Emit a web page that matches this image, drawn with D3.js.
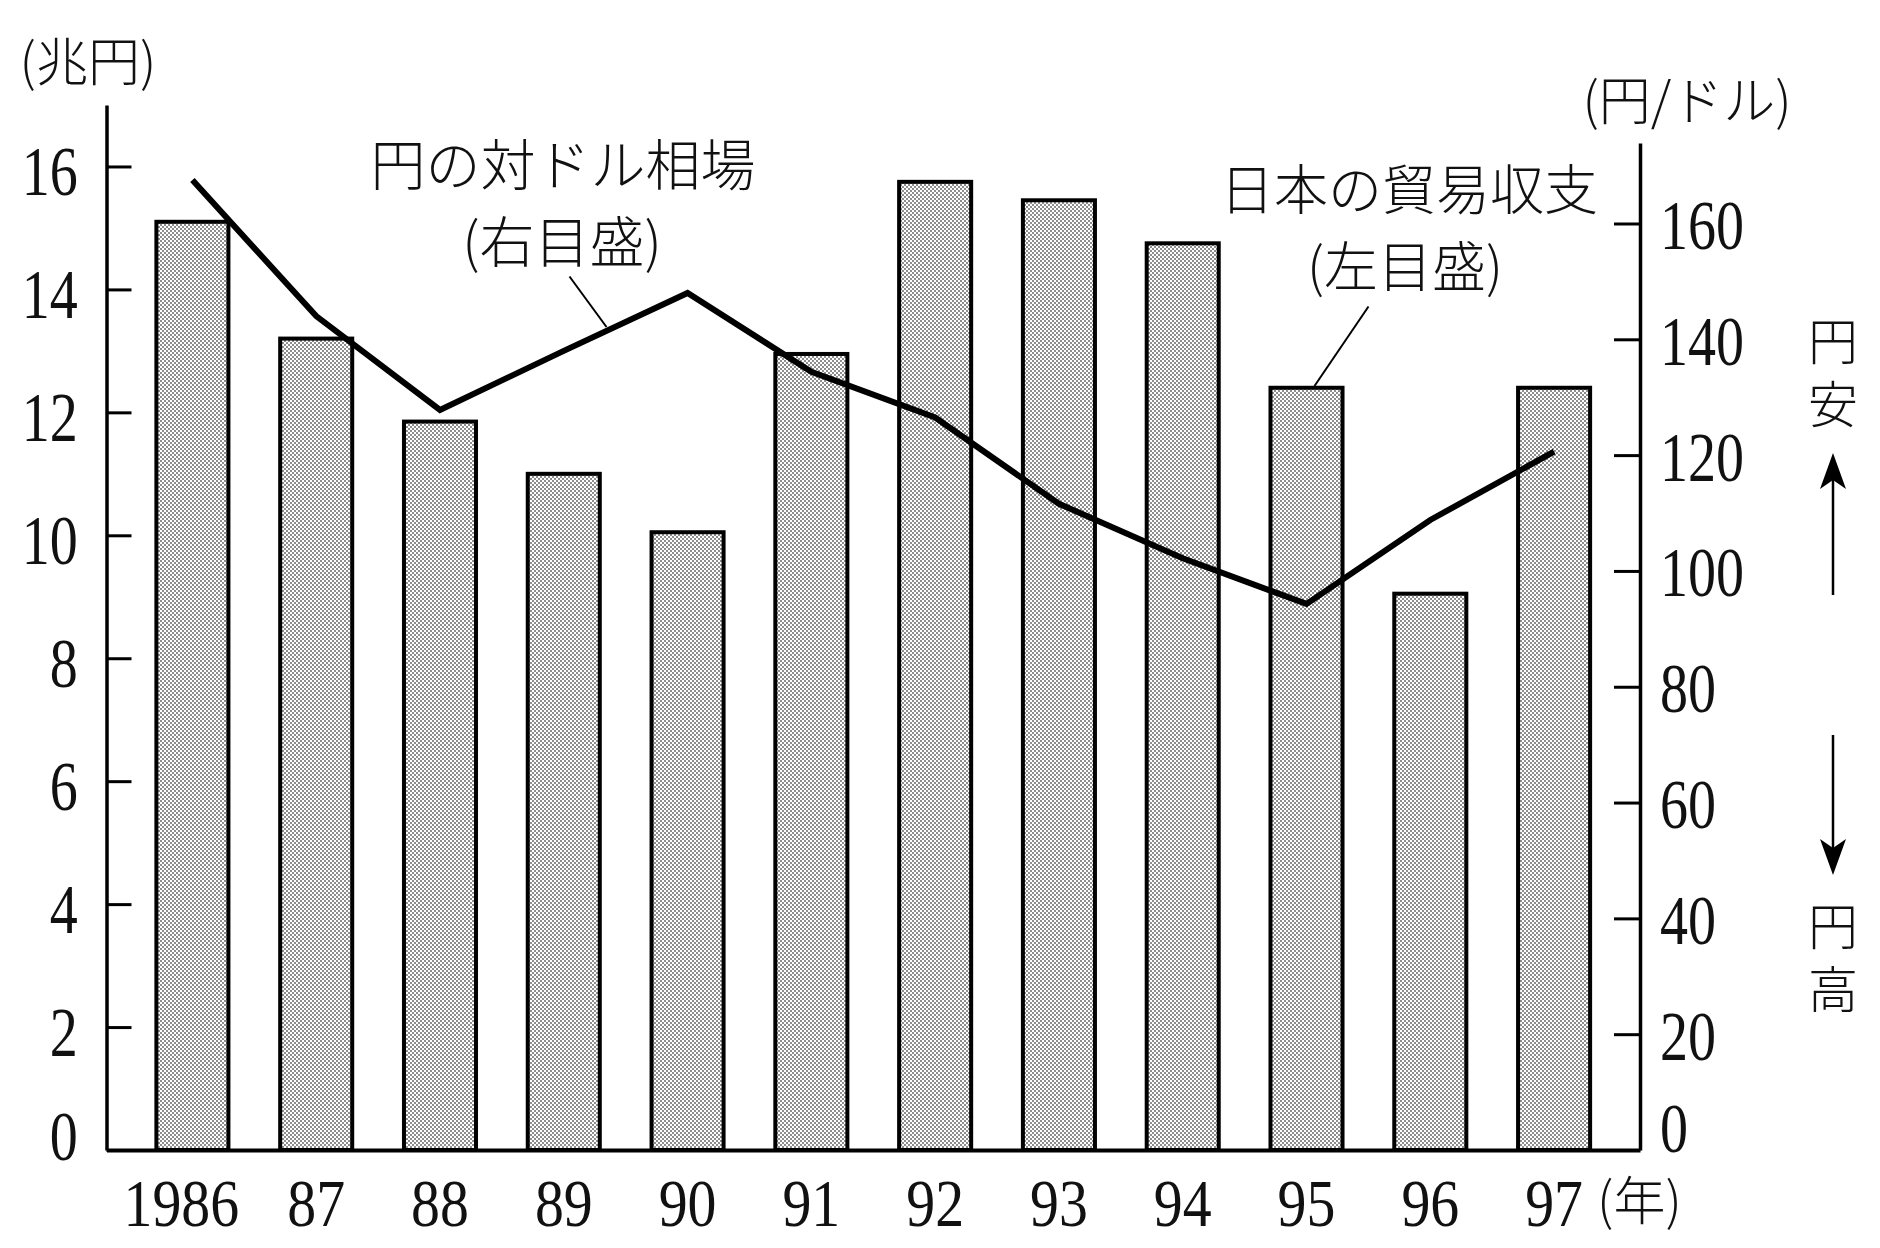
<!DOCTYPE html>
<html lang="ja">
<head>
<meta charset="utf-8" />
<title>日本の貿易収支と円の対ドル相場</title>
<script src="https://cdn.jsdelivr.net/npm/d3@7"></script>
<style>
  html, body { margin: 0; padding: 0; background: #fff; }
  #svg-container { width: 1880px; height: 1248px; }
  .jp { font-family: 'Noto Sans CJK JP', 'Noto Sans', sans-serif; font-weight: 300; fill: #111; }
  .num { font-family: 'Liberation Serif', 'DejaVu Serif', serif; fill: #111; }
  .vertical { writing-mode: vertical-rl; letter-spacing: 13px; }
</style>
</head>
<body>
<div id="svg-container"></div>
<script>
// data
const years = ['1986', '87', '88', '89', '90', '91', '92', '93', '94', '95', '96', '97'];
const tradeBalance = [15.1, 13.2, 11.85, 11.0, 10.05, 12.95, 15.75, 15.45, 14.75, 12.4, 9.05, 12.4]; // 兆円
const yenPerDollar = [167.5, 144, 127.8, 138, 148, 134.4, 126.5, 111.6, 102.2, 94.3, 108.8, 120.6]; // 円/ドル
const leftTicks = [0, 2, 4, 6, 8, 10, 12, 14, 16];
const rightTicks = [0, 20, 40, 60, 80, 100, 120, 140, 160];

const WIDTH = 1880;
const HEIGHT = 1248;
const LEFT = 106.5;
const RIGHT = 1640;
const BASE = 1150;

const drawChart = () => {
  const svgContainer = document.getElementById('svg-container');

  const svg = d3
    .create('svg')
    .attr('width', WIDTH)
    .attr('height', HEIGHT)
    .attr('viewBox', `0 0 ${WIDTH} ${HEIGHT}`);

  // halftone screen like the print
  const pattern = svg
    .append('defs')
    .append('pattern')
    .attr('id', 'screen')
    .attr('width', 4)
    .attr('height', 4)
    .attr('patternUnits', 'userSpaceOnUse');
  pattern.append('rect').attr('width', 4).attr('height', 4).attr('fill', '#fff');
  pattern.append('rect').attr('x', 0).attr('y', 0).attr('width', 2).attr('height', 2).attr('fill', '#8e8e8e');
  pattern.append('rect').attr('x', 2).attr('y', 2).attr('width', 2).attr('height', 2).attr('fill', '#8e8e8e');

  const x = d3
    .scaleBand()
    .domain(years)
    .range([LEFT, RIGHT])
    .paddingInner(0.418)
    .paddingOuter(0.403);

  const yLeft = d3.scaleLinear().domain([0, 17]).range([BASE, 105]);
  const yRight = d3.scaleLinear().domain([0, 173.9]).range([BASE, 143]);

  // bars: trade balance
  svg
    .append('g')
    .selectAll('rect')
    .data(tradeBalance)
    .join('rect')
    .attr('x', (_, i) => x(years[i]))
    .attr('y', (d) => yLeft(d))
    .attr('width', x.bandwidth())
    .attr('height', (d) => yLeft(0) - yLeft(d))
    .attr('fill', 'url(#screen)')
    .attr('stroke', '#000')
    .attr('stroke-width', 4);

  // line: yen per dollar
  const line = d3
    .line()
    .x((_, i) => x(years[i]) + x.bandwidth() / 2)
    .y((d) => yRight(d));

  svg
    .append('path')
    .datum(yenPerDollar)
    .attr('d', line)
    .attr('fill', 'none')
    .attr('stroke', '#000')
    .attr('stroke-width', 6)
    .attr('stroke-linejoin', 'miter');

  // left axis
  const leftAxis = svg
    .append('g')
    .attr('transform', `translate(${LEFT}, 0)`)
    .call(d3.axisLeft(yLeft).tickValues(leftTicks).tickSize(-25).tickSizeOuter(0).tickPadding(0));

  leftAxis.select('.domain').attr('stroke-width', 3.5);
  leftAxis.selectAll('.tick line').attr('stroke-width', 3);
  leftAxis
    .selectAll('.tick text')
    .attr('class', 'num')
    .attr('font-size', 70)
    .attr('text-anchor', 'end')
    .attr('transform', 'scale(0.8, 1)')
    .attr('x', -36)
    .attr('dy', null)
    .attr('y', (d) => (d === 0 ? 9 : 28));

  // right axis
  const rightAxis = svg
    .append('g')
    .attr('transform', `translate(${RIGHT}, 0)`)
    .call(d3.axisRight(yRight).tickValues(rightTicks).tickSize(-26).tickSizeOuter(0).tickPadding(0));

  rightAxis.select('.domain').attr('stroke-width', 3.5);
  rightAxis.selectAll('.tick line').attr('stroke-width', 3);
  rightAxis
    .selectAll('.tick text')
    .attr('class', 'num')
    .attr('font-size', 70)
    .attr('text-anchor', 'start')
    .attr('transform', 'scale(0.8, 1)')
    .attr('x', 25)
    .attr('dy', null)
    .attr('y', (d) => (d === 0 ? 1 : 25));

  // bottom axis
  const bottomAxis = svg
    .append('g')
    .attr('transform', `translate(0, ${BASE})`)
    .call(d3.axisBottom(x).tickSize(0).tickSizeOuter(0).tickPadding(0));

  bottomAxis.select('.domain').attr('stroke-width', 4);
  bottomAxis
    .selectAll('.tick text')
    .attr('class', 'num')
    .attr('font-size', 68)
    .attr('transform', 'scale(0.85, 1)')
    .attr('x', (d) => (d === '1986' ? -13 : 0))
    .attr('dy', null)
    .attr('y', 76);

  svg.selectAll('.domain, .tick line').attr('stroke', '#000');

  // labels
  const label = (text, cx, cy, size, anchor = 'middle') =>
    svg
      .append('text')
      .attr('class', 'jp')
      .attr('x', cx)
      .attr('y', cy)
      .attr('font-size', size)
      .attr('text-anchor', anchor)
      .attr('dominant-baseline', 'central')
      .text(text);

  label('(兆円)', 88, 58, 52);
  label('(円/ドル)', 1687, 97, 52);
  label('(年)', 1597, 1197, 52, 'start');

  label('円の対ドル相場', 563, 161, 55);
  label('(右目盛)', 562, 238, 55);
  label('日本の貿易収支', 1409, 186, 54);
  label('(左目盛)', 1405, 263, 54);

  // 円安 / 円高 written top to bottom
  const verticalLabel = (text, cx, cy) =>
    svg
      .append('text')
      .attr('class', 'jp vertical')
      .attr('x', cx)
      .attr('y', cy)
      .attr('font-size', 50)
      .attr('text-anchor', 'middle')
      .text(text);

  verticalLabel('円安', 1833, 379);
  verticalLabel('円高', 1833, 964);

  // leader lines
  const leader = (x1, y1, x2, y2) =>
    svg
      .append('line')
      .attr('x1', x1)
      .attr('y1', y1)
      .attr('x2', x2)
      .attr('y2', y2)
      .attr('stroke', '#000')
      .attr('stroke-width', 2);

  leader(569.5, 276.5, 606.5, 327);
  leader(1368.5, 306.5, 1314.5, 386);

  // 円安 / 円高 arrows
  const arrow = (xPos, from, to) => {
    const dir = to < from ? 1 : -1;
    svg
      .append('line')
      .attr('x1', xPos)
      .attr('y1', from)
      .attr('x2', xPos)
      .attr('y2', to + dir * 20)
      .attr('stroke', '#000')
      .attr('stroke-width', 2.5);
    svg
      .append('path')
      .attr(
        'd',
        `M${xPos},${to} L${xPos - 13},${to + dir * 36} L${xPos},${to + dir * 27} L${xPos + 13},${to + dir * 36} Z`
      )
      .attr('fill', '#000');
  };

  arrow(1833, 595, 453);
  arrow(1833, 735, 875);

  svgContainer.appendChild(svg.node());
};

drawChart();
</script>
</body>
</html>
